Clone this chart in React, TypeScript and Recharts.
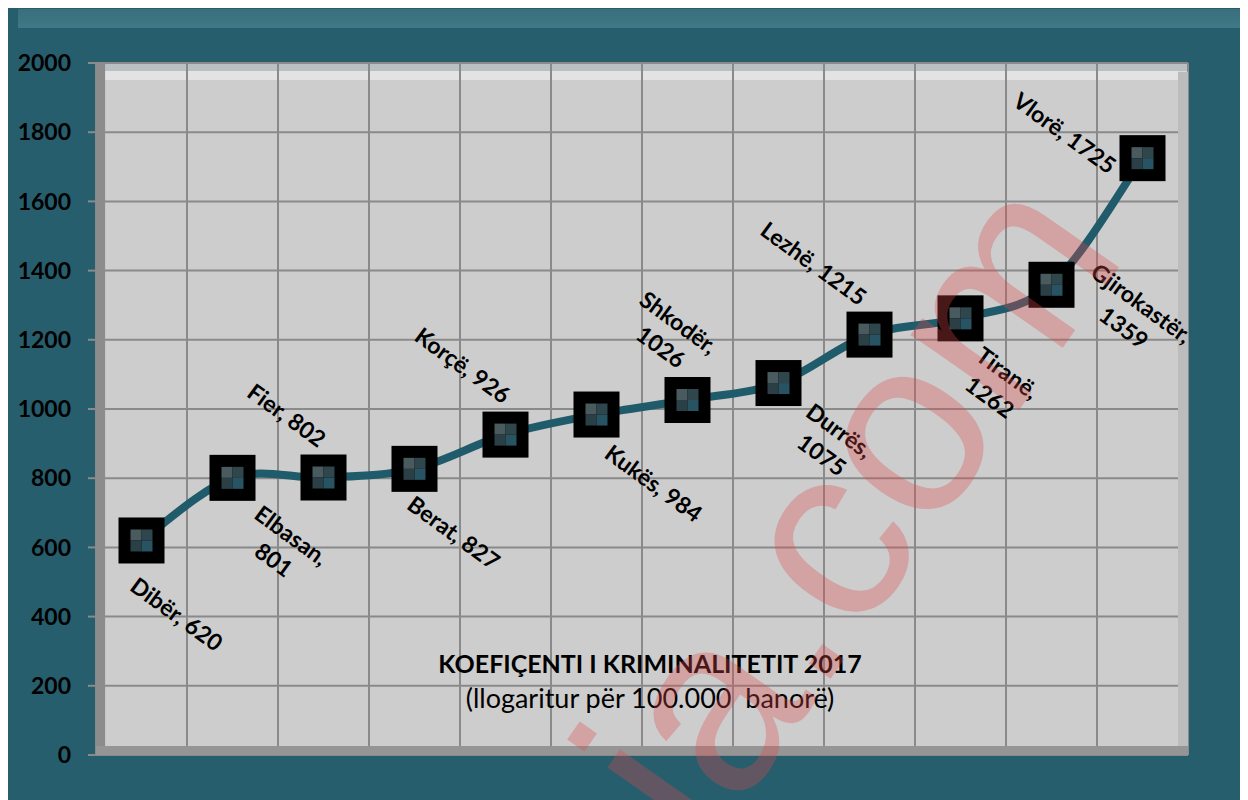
import {
  CartesianGrid,
  LabelList,
  Line,
  LineChart,
  ReferenceArea,
  XAxis,
  YAxis,
} from "recharts";

const cities = [
  "Dibër",
  "Elbasan",
  "Fier",
  "Berat",
  "Korçë",
  "Kukës",
  "Shkodër",
  "Durrës",
  "Lezhë",
  "Tiranë",
  "Gjirokastër",
  "Vlorë",
];
const crimeRates = [620, 801, 802, 827, 926, 984, 1026, 1075, 1215, 1262, 1359, 1725];
const yTicks = [0, 200, 400, 600, 800, 1000, 1200, 1400, 1600, 1800, 2000];
const xBounds = [0, 1, 2, 3, 4, 5, 6, 7, 8, 9, 10, 11, 12];

// labels that break after the comma
const wrapLabel = [false, true, false, false, false, false, true, true, false, true, true, false];
// where each data label sits relative to its marker (like excel's manual placement)
const labelShift: [number, number][] = [
  [35, 74],
  [50, 70],
  [-37, -62],
  [39, 64],
  [-43, -69],
  [57, 69],
  [-18, -65],
  [52, 60],
  [-56, -71],
  [38, 67],
  [81, 31],
  [-78, -25],
];

const chartData = cities.map((city, i) => ({
  city,
  value: crimeRates[i],
  pos: i + 0.5,
}));

const FONT = "Lato, 'Open Sans', sans-serif";

// excel-style smoothed line: bezier segments with catmull-rom control points
const excelSmooth = (context: any) => {
  let pts: number[][] = [];
  return {
    areaStart() {},
    areaEnd() {},
    lineStart() {
      pts = [];
    },
    point(x: number, y: number) {
      pts.push([+x, +y]);
    },
    lineEnd() {
      if (!pts.length) return;
      context.moveTo(pts[0][0], pts[0][1]);
      for (let i = 0; i < pts.length - 1; i++) {
        const p0 = pts[i - 1] || pts[i];
        const p1 = pts[i];
        const p2 = pts[i + 1];
        const p3 = pts[i + 2] || p2;
        context.bezierCurveTo(
          p1[0] + (p2[0] - p0[0]) / 6,
          p1[1] + (p2[1] - p0[1]) / 6,
          p2[0] - (p3[0] - p1[0]) / 6,
          p2[1] - (p3[1] - p1[1]) / 6,
          p2[0],
          p2[1]
        );
      }
    },
  };
};

const BlackBox = (props: any) => {
  const { cx, cy, index } = props;
  if (cx == null || cy == null) return <g key={index} />;
  return <rect key={index} x={cx - 23} y={cy - 23} width={46} height={46} fill="#000" />;
};

const InnerBox = (props: any) => {
  const { cx, cy, index } = props;
  if (cx == null || cy == null) return <g key={index} />;
  return (
    <g key={index}>
      <rect x={cx - 11} y={cy - 11} width={11} height={11} fill="#4a5b60" />
      <rect x={cx} y={cy - 11} width={11} height={11} fill="#30464d" />
      <rect x={cx - 11} y={cy} width={11} height={11} fill="#2a3f46" />
      <rect x={cx} y={cy} width={11} height={11} fill="#285362" />
    </g>
  );
};

const renderLabel = (props: any) => {
  const { x, y, index } = props;
  if (x == null || y == null) return null;
  const [dx, dy] = labelShift[index];
  const cx = x + dx;
  const cy = y + dy;
  const lines = wrapLabel[index]
    ? [`${cities[index]},`, `${crimeRates[index]}`]
    : [`${cities[index]}, ${crimeRates[index]}`];
  return (
    <text
      key={index}
      x={cx}
      y={cy}
      textAnchor="middle"
      transform={`rotate(36 ${cx} ${cy})`}
      fontFamily={FONT}
      fontWeight={700}
      fontSize={23}
      fill="#000"
    >
      {lines.map((t, k) => (
        <tspan key={k} x={cx} y={cy + (k - (lines.length - 1) / 2) * 30} dy="0.35em">
          {t}
        </tspan>
      ))}
    </text>
  );
};

export default function App() {
  return (
    <div
      style={{
        position: "relative",
        width: 1240,
        height: 792,
        background: "#265e6e",
        fontFamily: FONT,
        overflow: "hidden",
      }}
    >
      <div
        style={{
          position: "absolute",
          left: 10,
          top: 1,
          width: 1230,
          height: 19,
          background: "linear-gradient(#3a6e7c, #3f7987)",
        }}
      />
      <LineChart
        width={1240}
        height={792}
        data={chartData}
        margin={{ top: 55, right: 60, bottom: 45, left: 0 }}
      >
        <defs>
          <linearGradient id="plotBg" x1="0" y1="0" x2="0" y2="1">
            <stop offset="0" stopColor="#b9c0c2" />
            <stop offset="0.012" stopColor="#b9c0c2" />
            <stop offset="0.012" stopColor="#e3e3e3" />
            <stop offset="0.025" stopColor="#e3e3e3" />
            <stop offset="0.025" stopColor="#cdcdcd" />
            <stop offset="1" stopColor="#cdcdcd" />
          </linearGradient>
        </defs>
        <CartesianGrid
          stroke="#8a8a8a"
          strokeWidth={2}
          fill="url(#plotBg)"
          fillOpacity={1}
        />
        <XAxis
          type="number"
          dataKey="pos"
          domain={[0, 12]}
          ticks={xBounds}
          hide
        />
        <YAxis
          type="number"
          domain={[0, 2000]}
          ticks={yTicks}
          interval={0}
          width={88}
          axisLine={false}
          tickLine={{ stroke: "#8a8a8a", strokeWidth: 2 }}
          tickSize={8}
          tickMargin={17}
          tick={{ fill: "#000", fontSize: 23, fontWeight: 700, fontFamily: FONT }}
        />
        <ReferenceArea x1={11.89} x2={12} y1={0} y2={1975} fill="#bcbcbc" fillOpacity={1} stroke="none" />
        <ReferenceArea x1={0} x2={0.1} fill="#8c8c8c" fillOpacity={1} stroke="none" />
        <ReferenceArea y1={0} y2={26} fill="#959595" fillOpacity={1} stroke="none" />
        <Line
          dataKey="value"
          stroke="none"
          dot={BlackBox}
          activeDot={false}
          isAnimationActive={false}
        />
        <Line
          type={excelSmooth as any}
          dataKey="value"
          stroke="#1f5b6a"
          strokeWidth={8}
          dot={InnerBox}
          activeDot={false}
          isAnimationActive={false}
        >
          <LabelList dataKey="value" content={renderLabel} />
        </Line>
      </LineChart>
      <svg
        width={1240}
        height={792}
        style={{ position: "absolute", left: 0, top: 0, pointerEvents: "none" }}
      >
        <text
          x={642}
          y={665}
          textAnchor="middle"
          fontFamily={FONT}
          fontWeight={700}
          fontSize={25}
          fill="#000"
        >
          KOEFIÇENTI I KRIMINALITETIT 2017
        </text>
        <text
          x={642}
          y={700}
          textAnchor="middle"
          fontFamily={FONT}
          fontSize={27}
          fill="#000"
          style={{ whiteSpace: "pre" }}
        >
          (llogaritur për 100.000  banorë)
        </text>
        <text
          x={698}
          y={849}
          transform="rotate(-55 698 849)"
          fontFamily="'Liberation Sans', Arial, sans-serif"
          fontSize={250}
          fill="#e04848"
          fillOpacity={0.32}
        >
          ia.com
        </text>
      </svg>
    </div>
  );
}
